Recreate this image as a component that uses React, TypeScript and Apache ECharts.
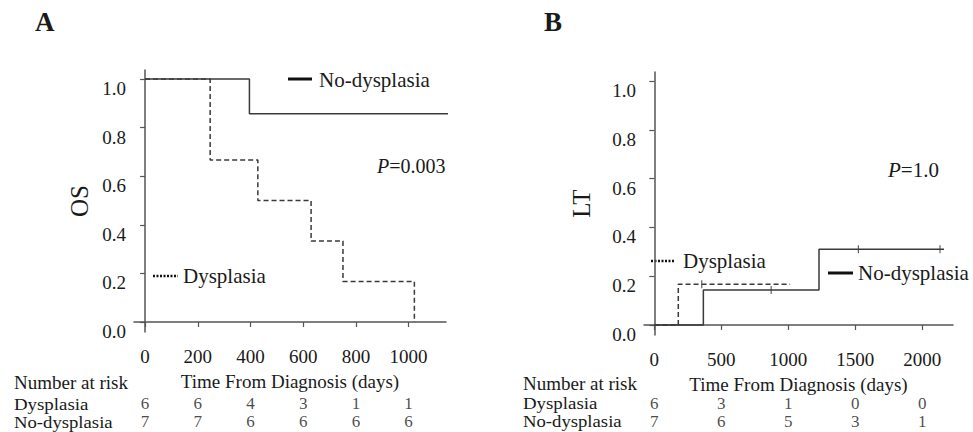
import React, { useEffect, useRef } from "react";
import * as echarts from "echarts";

// ---------- Data ----------
// Panel A: overall survival (Kaplan–Meier steps)
const osDysplasiaTimes = [0, 247, 428, 630, 751, 1022];
const osDysplasiaSurv = [1, 0.667, 0.5, 0.333, 0.167, 0];
const osNoDysplasiaTimes = [0, 396, 1237];
const osNoDysplasiaSurv = [1, 0.857, 0.857];
const osTicksX = [0, 200, 400, 600, 800, 1000];
const osRiskDysplasia = [6, 6, 4, 3, 1, 1];
const osRiskNoDysplasia = [7, 7, 6, 6, 6, 6];

// Panel B: LT cumulative incidence
const ltDysplasiaTimes = [0, 179, 1013];
const ltDysplasiaInc = [0, 0.167, 0.167];
const ltNoDysplasiaTimes = [0, 366, 1229, 2162];
const ltNoDysplasiaInc = [0, 0.143, 0.31, 0.31];
const ltDysplasiaCensorT = [354];
const ltDysplasiaCensorV = [0.167];
const ltNoDysplasiaCensorT = [872, 1523, 2132];
const ltNoDysplasiaCensorV = [0.143, 0.31, 0.31];
const ltTicksX = [0, 500, 1000, 1500, 2000];
const ltRiskDysplasia = [6, 3, 1, 0, 0];
const ltRiskNoDysplasia = [7, 6, 5, 3, 1];

const yTicks = [0, 0.2, 0.4, 0.6, 0.8, 1.0];

const FONT = "Liberation Serif";
const TXT = "#1a1a1a";
const LINE = "#3a3a3a";
const AXIS = "#555";

const zip = (a: number[], b: number[]) => a.map((v, i) => [v, b[i]]);

function App() {
  const ref = useRef<HTMLDivElement>(null);
  useEffect(() => {
    if (!ref.current) return;
    const chart = echarts.init(ref.current, undefined, { renderer: "svg" });

    const xAxisCommon = (min: number, max: number, ticks: number[], gridIndex: number) => ({
      type: "value",
      gridIndex,
      min,
      max,
      splitLine: { show: false },
      axisLine: { show: true, lineStyle: { color: AXIS, width: 1.5 } },
      axisTick: { show: true, customValues: ticks, length: 5, lineStyle: { color: AXIS, width: 1.2 } },
      axisLabel: {
        customValues: ticks,
        margin: 15,
        fontFamily: FONT,
        fontSize: 19,
        color: TXT,
        formatter: (v: number) => String(v),
      },
      name: "Time From Diagnosis (days)",
      nameLocation: "middle",
      nameGap: 40,
      nameTextStyle: { fontFamily: FONT, fontSize: 19, color: TXT },
    });

    const yAxisCommon = (gridIndex: number, name: string, nameGap: number) => ({
      type: "value",
      gridIndex,
      min: -0.041,
      max: 1.037,
      splitLine: { show: false },
      axisLine: { show: true, lineStyle: { color: AXIS, width: 1.5 } },
      axisTick: { show: true, customValues: yTicks, length: 5, lineStyle: { color: AXIS, width: 1.2 } },
      axisLabel: {
        customValues: yTicks,
        margin: 8,
        verticalAlign: "top",
        fontFamily: FONT,
        fontSize: 19,
        color: TXT,
        formatter: (v: number) => v.toFixed(1),
      },
      name,
      nameLocation: "middle",
      nameRotate: 90,
      nameGap,
      nameTextStyle: { fontFamily: FONT, fontSize: 25, color: TXT },
    });

    const riskSeries = (
      xAxisIndex: number,
      ticks: number[],
      counts: number[],
      yVal: number
    ) => ({
      type: "scatter",
      xAxisIndex,
      yAxisIndex: xAxisIndex,
      clip: false,
      symbol: "circle",
      symbolSize: 1,
      silent: true,
      itemStyle: { color: "rgba(0,0,0,0)" },
      label: {
        show: true,
        position: "inside",
        formatter: (p: any) => String(p.value[2]),
        fontFamily: FONT,
        fontSize: 17,
        lineHeight: 17,
        color: TXT,
      },
      data: ticks.map((t, i) => [t, yVal, counts[i]]),
    });

    const censorSeries = (xAxisIndex: number, t: number[], v: number[]) => ({
      type: "scatter",
      xAxisIndex,
      yAxisIndex: xAxisIndex,
      symbol: "rect",
      symbolSize: [1.2, 8],
      silent: true,
      itemStyle: { color: LINE },
      data: zip(t, v),
    });

    const text = (x: number, y: number, t: string, size: number, extra: any = {}, sx = 1) => ({
      type: "text",
      x,
      y,
      scaleX: sx,
      style: {
        text: t,
        fontFamily: FONT,
        fontSize: size,
        fill: TXT,
        verticalAlign: "middle",
        ...extra,
      },
    });

    chart.setOption({
      animation: false,
      backgroundColor: "#fff",
      grid: [
        { left: 134, top: 70, width: 312, height: 262 },
        { left: 644, top: 72, width: 309, height: 263 },
      ],
      xAxis: [xAxisCommon(-42, 1142, osTicksX, 0), xAxisCommon(-77, 2229, ltTicksX, 1)],
      yAxis: [yAxisCommon(0, "OS", 42), yAxisCommon(1, "LT", 50)],
      series: [
        {
          type: "line",
          name: "No-dysplasia",
          xAxisIndex: 0,
          yAxisIndex: 0,
          step: "end",
          clip: false,
          symbol: "none",
          lineStyle: { color: LINE, width: 1.5 },
          data: zip(osNoDysplasiaTimes, osNoDysplasiaSurv),
        },
        {
          type: "line",
          name: "Dysplasia",
          xAxisIndex: 0,
          yAxisIndex: 0,
          step: "end",
          clip: false,
          symbol: "none",
          lineStyle: { color: LINE, width: 1.5, type: [5, 3] },
          data: zip(osDysplasiaTimes, osDysplasiaSurv),
        },
        {
          type: "line",
          name: "No-dysplasia",
          xAxisIndex: 1,
          yAxisIndex: 1,
          step: "end",
          clip: false,
          symbol: "none",
          lineStyle: { color: LINE, width: 1.5 },
          data: zip(ltNoDysplasiaTimes, ltNoDysplasiaInc),
        },
        {
          type: "line",
          name: "Dysplasia",
          xAxisIndex: 1,
          yAxisIndex: 1,
          step: "end",
          clip: false,
          symbol: "none",
          lineStyle: { color: LINE, width: 1.5, type: [5, 3] },
          data: zip(ltDysplasiaTimes, ltDysplasiaInc),
        },
        censorSeries(1, ltDysplasiaCensorT, ltDysplasiaCensorV),
        censorSeries(1, ltNoDysplasiaCensorT, ltNoDysplasiaCensorV),
        riskSeries(0, osTicksX, osRiskDysplasia, -0.337),
        riskSeries(0, osTicksX, osRiskNoDysplasia, -0.411),
        riskSeries(1, ltTicksX, ltRiskDysplasia, -0.320),
        riskSeries(1, ltTicksX, ltRiskNoDysplasia, -0.394),
      ],
      graphic: [
        // panel titles
        text(35, 22, "A", 27, { fontWeight: "bold" }),
        text(544, 22, "B", 27, { fontWeight: "bold" }),
        // legends A
        { type: "line", shape: { x1: 288, y1: 79, x2: 312, y2: 79 }, style: { stroke: "#111", lineWidth: 3 } },
        text(319, 80, "No-dysplasia", 21),
        { type: "line", shape: { x1: 153, y1: 276, x2: 178, y2: 276 }, style: { stroke: "#111", lineWidth: 2.5, lineDash: [2, 1.5] } },
        text(183, 276, "Dysplasia", 21),
        // legends B
        { type: "line", shape: { x1: 651, y1: 261, x2: 674, y2: 261 }, style: { stroke: "#111", lineWidth: 2.5, lineDash: [2, 1.5] } },
        text(683, 261, "Dysplasia", 21),
        { type: "line", shape: { x1: 828, y1: 273, x2: 853, y2: 273 }, style: { stroke: "#111", lineWidth: 3 } },
        text(858, 273, "No-dysplasia", 21),
        // p-values
        {
          type: "text",
          x: 377,
          y: 166,
          style: {
            text: "{i|P}=0.003",
            fontFamily: FONT,
            fontSize: 20,
            fill: TXT,
            verticalAlign: "middle",
            rich: { i: { fontStyle: "italic", fontFamily: FONT, fontSize: 20, fill: TXT } },
          },
        },
        {
          type: "text",
          x: 888,
          y: 170,
          style: {
            text: "{i|P}=1.0",
            fontFamily: FONT,
            fontSize: 21,
            fill: TXT,
            verticalAlign: "middle",
            rich: { i: { fontStyle: "italic", fontFamily: FONT, fontSize: 21, fill: TXT } },
          },
        },
        // number at risk table labels
        text(14, 382, "Number at risk", 19),
        text(14, 404, "Dysplasia", 17, { lineHeight: 17 }, 1.11),
        text(14, 422, "No-dysplasia", 17, { lineHeight: 17 }, 1.1),
        text(523, 383, "Number at risk", 19),
        text(523, 403, "Dysplasia", 17, { lineHeight: 17 }, 1.11),
        text(523, 421, "No-dysplasia", 17, { lineHeight: 17 }, 1.1),
      ],
    });

    return () => chart.dispose();
  }, []);

  return (
    <div
      ref={ref}
      style={{ position: "fixed", left: 0, top: 0, width: 973, height: 432, background: "#fff" }}
    />
  );
}

export default App;
